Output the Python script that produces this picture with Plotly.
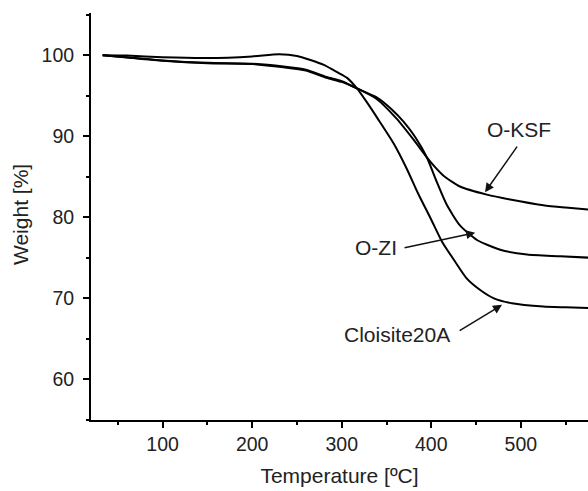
import plotly.graph_objects as go

# Thermogravimetric curves: temperature (°C) vs residual weight (%)
t_cloisite = [33, 60, 100, 150, 200, 230, 250, 265, 280, 295, 306, 317, 328, 340,
              358, 373, 385, 400, 412, 425, 440, 455, 470, 490, 525, 550, 580]
w_cloisite = [100, 99.95, 99.75, 99.65, 99.85, 100.1, 99.9, 99.4, 98.8, 97.9, 97.2, 95.9,
              94.2, 92.2, 89.1, 85.9, 83.0, 79.7, 77.0, 74.8, 72.4, 71.0, 70.0, 69.4,
              69.0, 68.9, 68.8]

t_oksf = [33, 60, 100, 150, 200, 235, 260, 283, 300, 317, 339, 361, 380, 395, 405,
          414, 432, 462, 488, 525, 550, 580]
w_oksf = [100, 99.7, 99.3, 99.0, 98.9, 98.5, 98.1, 97.2, 96.7, 95.9, 94.6, 92.2, 89.6,
          87.4, 86.1, 85.1, 83.8, 82.8, 82.2, 81.5, 81.2, 80.9]

t_ozi = [33, 60, 100, 150, 200, 235, 260, 283, 300, 317, 339, 355, 369, 382, 395,
         406, 417, 432, 451, 477, 507, 544, 580]
w_ozi = [100, 99.75, 99.35, 99.05, 98.95, 98.6, 98.2, 97.3, 96.8, 95.9, 94.8, 93.4,
         91.8, 89.9, 87.4, 84.4, 81.6, 79.0, 77.2, 76.0, 75.4, 75.2, 75.0]

# label text, label centre (x, y), arrow tail (x, y), arrow head (x, y)
labels = [
    ("O-KSF", (498, 90.8), (497, 88.9), (460, 83.1)),
    ("O-ZI", (338.6, 76.3), (368.5, 76.2), (449, 78.1)),
    ("Cloisite20A", (361.3, 65.5), (430, 65.9), (479, 69.2)),
]

FONT = "Liberation Sans, Arial, sans-serif"
INK = "#222"
fig = go.Figure()
for t, w, name in [(t_cloisite, w_cloisite, "Cloisite20A"),
                   (t_oksf, w_oksf, "O-KSF"),
                   (t_ozi, w_ozi, "O-ZI")]:
    fig.add_trace(go.Scatter(x=t, y=w, mode="lines", name=name,
                             line=dict(color="black", width=2, shape="spline", smoothing=0.6)))

for text, (tx, ty), (ax, ay), (hx, hy) in labels:
    fig.add_annotation(x=tx, y=ty, text=text, showarrow=False,
                       font=dict(family=FONT, size=21, color=INK))
    fig.add_annotation(x=hx, y=hy, ax=ax, ay=ay, xref="x", yref="y", axref="x", ayref="y",
                       text="", showarrow=True, arrowhead=2, arrowsize=1.2,
                       arrowwidth=1.5, arrowcolor="#111")

# vertical axis title placed by hand so it sits at the left edge
fig.add_annotation(x=20, y=215, xref="paper", yref="paper", text="Weight [%]",
                   textangle=-90, showarrow=False,
                   font=dict(family=FONT, size=21, color=INK))
fig.update_annotations(selector=dict(text="Weight [%]"),
                       x=(20 - 91) / (588 - 91), y=(420 - 215) / (420 - 13),
                       xanchor="center", yanchor="middle")

axis_common = dict(showline=True, linecolor="black", linewidth=2, ticks="outside",
                   ticklen=6, tickwidth=2, tickcolor="black", showgrid=False,
                   zeroline=False, tickfont=dict(family=FONT, size=19.5, color=INK))

fig.update_xaxes(range=[20, 575], tick0=0, dtick=100, **axis_common,
                 minor=dict(dtick=50, tick0=0, ticks="outside", ticklen=3,
                            tickwidth=2, tickcolor="black"),
                 title=dict(text="Temperature [ºC]", standoff=14,
                            font=dict(family=FONT, size=21, color=INK)))
fig.update_yaxes(range=[55, 105.2], tick0=0, dtick=10, ticklabelstandoff=5, **axis_common,
                 minor=dict(dtick=5, tick0=0, ticks="outside", ticklen=3,
                            tickwidth=2, tickcolor="black"))

fig.update_layout(width=588, height=491, margin=dict(l=91, r=0, t=13, b=71),
                  plot_bgcolor="white", paper_bgcolor="white", showlegend=False)

fig.write_html("out.html")
